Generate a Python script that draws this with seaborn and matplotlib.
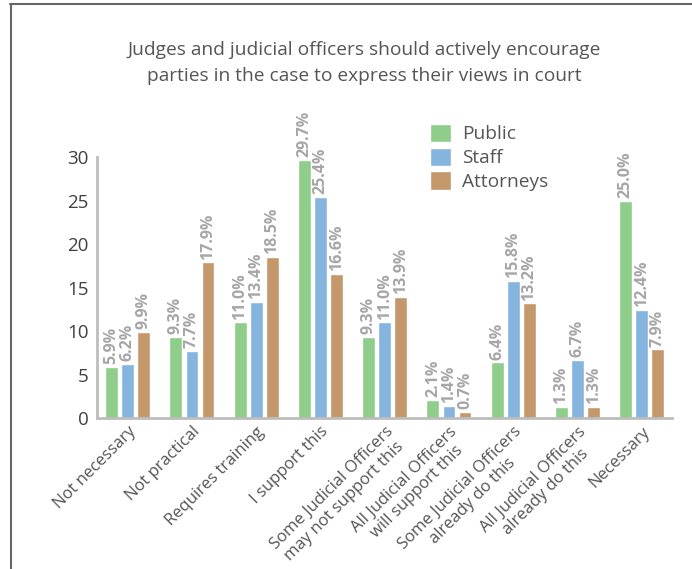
import pandas as pd
import seaborn as sns
import matplotlib.pyplot as plt
from matplotlib.lines import Line2D

# Data
categories = ['Not necessary', 'Not practical', 'Requires training', 'I support this',
              'Some Judicial Officers\nmay not support this',
              'All Judicial Officers\nwill support this',
              'Some Judicial Officers\nalready do this',
              'All Judicial Officers\nalready do this',
              'Necessary']
groups = ['Public', 'Staff', 'Attorneys']
public = [5.9, 9.3, 11.0, 29.7, 9.3, 2.1, 6.4, 1.3, 25.0]
staff = [6.2, 7.7, 13.4, 25.4, 11.0, 1.4, 15.8, 6.7, 12.4]
attorneys = [9.9, 17.9, 18.5, 16.6, 13.9, 0.7, 13.2, 1.3, 7.9]
colors = ['#8fcd8b', '#85b4de', '#c4986a']

df = pd.DataFrame({
    'category': categories * 3,
    'group': [g for g in groups for _ in categories],
    'value': public + staff + attorneys,
})

sns.set_style('white')
plt.rcParams['font.family'] = ['Open Sans', 'DejaVu Sans']

fig = plt.figure(figsize=(6.92, 5.69), dpi=100)
ax = fig.add_axes([0.140, 0.265, 0.831, 0.459])

sns.barplot(data=df, x='category', y='value', hue='group', palette=colors,
            width=0.75, gap=0.2, saturation=1, ax=ax)

for cont in ax.containers:
    ax.bar_label(cont, labels=['{:.1f}%'.format(v) for v in cont.datavalues],
                 rotation=90, padding=2, color='#a6a6a6', fontsize=11.5,
                 fontweight='bold')

ax.set_ylim(0, 30)
ax.set_xlim(-0.48, 8.47)
ax.set_yticks(range(0, 31, 5))
ax.set_xlabel('')
ax.set_ylabel('')
ax.tick_params(axis='y', labelsize=13.5, labelcolor='#404040', pad=6, length=0)
ax.tick_params(axis='x', labelsize=12, labelcolor='#555555', pad=4, length=0)
plt.setp(ax.get_xticklabels(), rotation=45, ha='right', rotation_mode='anchor',
         multialignment='center', linespacing=1.15)

for s in ['top', 'right']:
    ax.spines[s].set_visible(False)
for s in ['left', 'bottom']:
    ax.spines[s].set_color('#bdbdbd')
    ax.spines[s].set_linewidth(2)

handles, labels = ax.get_legend_handles_labels()
ax.legend(handles, labels, loc='upper left', bbox_to_anchor=(420 / 692, 1 - 114 / 569),
          bbox_transform=fig.transFigure, frameon=False, fontsize=13.8,
          handlelength=1.1, handleheight=1.1, handletextpad=0.6,
          labelspacing=0.22, labelcolor='#555555', borderpad=0)

fig.text(0.527, 0.889, 'Judges and judicial officers should actively encourage\n'
         'parties in the case to express their views in court',
         ha='center', va='center', fontsize=13.8, color='#555555', linespacing=1.55)

# outer frame (top and left edges)
fig.add_artist(Line2D([0.0145, 1], [0.993, 0.993], color='#666666', lw=1.5,
                      transform=fig.transFigure))
fig.add_artist(Line2D([0.0159, 0.0159], [0, 0.993], color='#666666', lw=1.5,
                      transform=fig.transFigure))

fig.savefig('out.png', dpi=100)
